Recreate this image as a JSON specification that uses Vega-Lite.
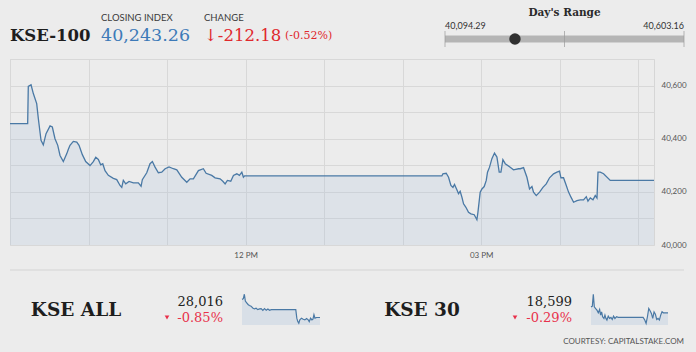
{
  "$schema": "https://vega.github.io/schema/vega-lite/v6.json",
  "background": "#ececec",
  "padding": {"left": 6, "top": 0, "right": 0, "bottom": 11},
  "config": {
    "view": {"stroke": null},
    "axis": {"labelFont": "Lato", "labelColor": "#555555", "labelFontSize": 8},
    "text": {"font": "DejaVu Serif"}
  },
  "datasets": {
    "kse100": [
      {"h":9,"v":40457},{"h":9.225,"v":40457},{"h":9.233,"v":40597},{"h":9.268,"v":40603},{"h":9.297,"v":40570},{"h":9.34,"v":40532},{"h":9.361,"v":40475},{"h":9.395,"v":40394},{"h":9.424,"v":40377},{"h":9.459,"v":40419},{"h":9.51,"v":40448},{"h":9.539,"v":40444},{"h":9.573,"v":40400},{"h":9.608,"v":40375},{"h":9.637,"v":40337},{"h":9.679,"v":40314},{"h":9.722,"v":40343},{"h":9.743,"v":40360},{"h":9.764,"v":40375},{"h":9.806,"v":40390},{"h":9.85,"v":40387},{"h":9.879,"v":40375},{"h":9.921,"v":40340},{"h":9.964,"v":40314},{"h":10.019,"v":40299},{"h":10.061,"v":40314},{"h":10.092,"v":40330},{"h":10.125,"v":40322},{"h":10.155,"v":40302},{"h":10.181,"v":40306},{"h":10.21,"v":40280},{"h":10.252,"v":40262},{"h":10.316,"v":40251},{"h":10.359,"v":40246},{"h":10.401,"v":40224},{"h":10.423,"v":40217},{"h":10.443,"v":40243},{"h":10.474,"v":40230},{"h":10.516,"v":40239},{"h":10.571,"v":40234},{"h":10.634,"v":40234},{"h":10.669,"v":40221},{"h":10.685,"v":40246},{"h":10.741,"v":40272},{"h":10.783,"v":40306},{"h":10.813,"v":40314},{"h":10.847,"v":40293},{"h":10.889,"v":40272},{"h":10.932,"v":40274},{"h":10.975,"v":40287},{"h":11.025,"v":40294},{"h":11.08,"v":40287},{"h":11.124,"v":40283},{"h":11.187,"v":40255},{"h":11.251,"v":40236},{"h":11.293,"v":40249},{"h":11.335,"v":40249},{"h":11.399,"v":40280},{"h":11.462,"v":40287},{"h":11.497,"v":40270},{"h":11.569,"v":40262},{"h":11.611,"v":40253},{"h":11.675,"v":40249},{"h":11.71,"v":40240},{"h":11.739,"v":40230},{"h":11.768,"v":40243},{"h":11.811,"v":40240},{"h":11.845,"v":40262},{"h":11.888,"v":40268},{"h":11.921,"v":40262},{"h":11.952,"v":40274},{"h":11.972,"v":40255},{"h":11.987,"v":40260},{"h":14.499,"v":40260},{"h":14.512,"v":40268},{"h":14.554,"v":40270},{"h":14.584,"v":40255},{"h":14.614,"v":40224},{"h":14.64,"v":40217},{"h":14.66,"v":40228},{"h":14.69,"v":40208},{"h":14.711,"v":40193},{"h":14.732,"v":40202},{"h":14.754,"v":40180},{"h":14.775,"v":40155},{"h":14.805,"v":40142},{"h":14.838,"v":40123},{"h":14.869,"v":40117},{"h":14.911,"v":40114},{"h":14.945,"v":40095},{"h":14.958,"v":40123},{"h":14.987,"v":40199},{"h":15.009,"v":40211},{"h":15.038,"v":40220},{"h":15.064,"v":40243},{"h":15.08,"v":40274},{"h":15.106,"v":40293},{"h":15.136,"v":40325},{"h":15.169,"v":40346},{"h":15.2,"v":40331},{"h":15.229,"v":40274},{"h":15.251,"v":40274},{"h":15.276,"v":40321},{"h":15.306,"v":40306},{"h":15.369,"v":40293},{"h":15.411,"v":40283},{"h":15.475,"v":40287},{"h":15.497,"v":40287},{"h":15.539,"v":40291},{"h":15.582,"v":40255},{"h":15.615,"v":40211},{"h":15.646,"v":40220},{"h":15.666,"v":40199},{"h":15.701,"v":40186},{"h":15.743,"v":40199},{"h":15.786,"v":40217},{"h":15.828,"v":40230},{"h":15.87,"v":40253},{"h":15.921,"v":40268},{"h":15.964,"v":40274},{"h":15.997,"v":40278},{"h":16.015,"v":40253},{"h":16.048,"v":40253},{"h":16.083,"v":40224},{"h":16.112,"v":40199},{"h":16.143,"v":40180},{"h":16.176,"v":40161},{"h":16.219,"v":40167},{"h":16.261,"v":40170},{"h":16.303,"v":40170},{"h":16.338,"v":40182},{"h":16.359,"v":40165},{"h":16.389,"v":40177},{"h":16.423,"v":40170},{"h":16.452,"v":40186},{"h":16.474,"v":40177},{"h":16.487,"v":40274},{"h":16.516,"v":40274},{"h":16.558,"v":40268},{"h":16.643,"v":40243},{"h":17.2,"v":40243}
    ],
    "kseall": [
      {"h":9,"v":28175},{"h":9.141,"v":28181},{"h":9.247,"v":28220},{"h":9.353,"v":28160},{"h":9.495,"v":28145},{"h":9.636,"v":28130},{"h":9.778,"v":28121},{"h":9.954,"v":28115},{"h":10.131,"v":28100},{"h":10.308,"v":28091},{"h":10.484,"v":28097},{"h":10.661,"v":28085},{"h":10.838,"v":28091},{"h":11.015,"v":28094},{"h":11.191,"v":28079},{"h":11.368,"v":28094},{"h":11.545,"v":28079},{"h":11.722,"v":28091},{"h":11.898,"v":28079},{"h":12.075,"v":28085},{"h":14.655,"v":28085},{"h":14.761,"v":28010},{"h":14.867,"v":27980},{"h":14.973,"v":27965},{"h":15.079,"v":27995},{"h":15.256,"v":28010},{"h":15.433,"v":28001},{"h":15.61,"v":27995},{"h":15.786,"v":28007},{"h":15.963,"v":27995},{"h":16.069,"v":27980},{"h":16.21,"v":28010},{"h":16.352,"v":27995},{"h":16.458,"v":28001},{"h":16.564,"v":28040},{"h":16.67,"v":28010},{"h":16.847,"v":28016},{"h":17.2,"v":28016}
    ],
    "kse30": [
      {"h":9,"v":18617},{"h":9.141,"v":18619},{"h":9.247,"v":18655},{"h":9.353,"v":18617},{"h":9.495,"v":18612},{"h":9.636,"v":18607},{"h":9.778,"v":18599},{"h":9.919,"v":18609},{"h":10.025,"v":18592},{"h":10.131,"v":18602},{"h":10.237,"v":18587},{"h":10.378,"v":18582},{"h":10.484,"v":18592},{"h":10.59,"v":18582},{"h":10.697,"v":18577},{"h":10.838,"v":18589},{"h":10.979,"v":18582},{"h":11.121,"v":18585},{"h":11.262,"v":18579},{"h":11.403,"v":18589},{"h":11.545,"v":18582},{"h":11.722,"v":18587},{"h":11.898,"v":18585},{"h":12.04,"v":18585},{"h":14.549,"v":18585},{"h":14.726,"v":18577},{"h":14.867,"v":18567},{"h":15.009,"v":18587},{"h":15.15,"v":18612},{"h":15.291,"v":18605},{"h":15.433,"v":18597},{"h":15.574,"v":18582},{"h":15.716,"v":18602},{"h":15.857,"v":18595},{"h":15.998,"v":18579},{"h":16.14,"v":18582},{"h":16.281,"v":18577},{"h":16.422,"v":18592},{"h":16.564,"v":18602},{"h":16.705,"v":18599},{"h":17.2,"v":18599}
    ]
  },
  "spacing": 9,
  "vconcat": [
    {
      "spacing": 4,
      "vconcat": [
        {
          "bounds": "flush",
          "spacing": 0,
          "hconcat": [
            {
              "width": 91, "height": 54,
              "data": {"values": [{"cell": "kse100", "level": "value", "text": "KSE-100"}]},
              "mark": {"type": "text", "align": "left", "baseline": "middle", "font": "DejaVu Serif", "fontSize": 16.5, "fontWeight": "bold", "color": "#1e1e1e"},
              "encoding": {
                "x": {"field": "cell", "type": "nominal", "axis": null, "scale": {"type": "point", "align": 0}},
                "y": {"field": "level", "type": "nominal", "axis": null, "scale": {"type": "point", "domain": ["label", "value"], "padding": 1.1875}},
                "text": {"field": "text"}
              }
            },
            {
              "width": 103, "height": 54,
              "data": {"values": [{"cell": "close", "level": "label", "text": "CLOSING INDEX"}, {"cell": "close", "level": "value", "text": "40,243.26"}]},
              "encoding": {
                "x": {"field": "cell", "type": "nominal", "axis": null, "scale": {"type": "point", "align": 0}},
                "y": {"field": "level", "type": "nominal", "axis": null, "scale": {"type": "point", "domain": ["label", "value"], "padding": 1.1875}},
                "text": {"field": "text"}
              },
              "layer": [
                {"transform": [{"filter": "datum.level == 'label'"}], "mark": {"type": "text", "align": "left", "baseline": "middle", "font": "Lato", "fontSize": 9.5, "color": "#3a3a3a"}},
                {"transform": [{"filter": "datum.level == 'value'"}], "mark": {"type": "text", "align": "left", "baseline": "middle", "font": "DejaVu Serif", "fontSize": 17.5, "color": "#3d7ab8"}}
              ]
            },
            {
              "width": 81, "height": 54,
              "data": {"values": [{"cell": "change", "level": "label", "text": "CHANGE"}, {"cell": "change", "level": "value", "text": "↓-212.18"}]},
              "encoding": {
                "x": {"field": "cell", "type": "nominal", "axis": null, "scale": {"type": "point", "align": 0}},
                "y": {"field": "level", "type": "nominal", "axis": null, "scale": {"type": "point", "domain": ["label", "value"], "padding": 1.1875}},
                "text": {"field": "text"}
              },
              "layer": [
                {"transform": [{"filter": "datum.level == 'label'"}], "mark": {"type": "text", "align": "left", "baseline": "middle", "font": "Lato", "fontSize": 9.5, "color": "#3a3a3a"}},
                {"transform": [{"filter": "datum.level == 'value'"}], "mark": {"type": "text", "align": "left", "baseline": "middle", "font": "DejaVu Serif", "fontSize": 16.5, "color": "#e0282d"}}
              ]
            },
            {
              "width": 160, "height": 54,
              "data": {"values": [{"cell": "pct", "level": "value", "text": "(-0.52%)"}]},
              "mark": {"type": "text", "align": "left", "baseline": "middle", "font": "DejaVu Serif", "fontSize": 11, "color": "#e0282d"},
              "encoding": {
                "x": {"field": "cell", "type": "nominal", "axis": null, "scale": {"type": "point", "align": 0}},
                "y": {"field": "level", "type": "nominal", "axis": null, "scale": {"type": "point", "domain": ["label", "value"], "padding": 1.1875}},
                "text": {"field": "text"}
              }
            },
            {
              "width": 239, "height": 52,
              "layer": [
                {
                  "data": {"values": [{"level": "title", "text": "Day's Range"}]},
                  "mark": {"type": "text", "baseline": "middle", "font": "DejaVu Serif", "fontSize": 10.5, "fontWeight": "bold", "color": "#2a2a2a"},
                  "encoding": {
                    "y": {"field": "level", "type": "nominal", "axis": null, "scale": {"type": "point", "domain": ["title", "label", "bar"], "padding": 1.25}},
                    "text": {"field": "text"}
                  }
                },
                {
                  "data": {"values": [{"level": "bar", "low": 40094.29, "high": 40603.16}]},
                  "mark": {"type": "rule", "color": "#b5b5b5", "strokeWidth": 7},
                  "encoding": {
                    "x": {"field": "low", "type": "quantitative", "axis": null, "scale": {"domain": [40094.29, 40603.16], "nice": false, "zero": false}},
                    "x2": {"field": "high"},
                    "y": {"field": "level", "type": "nominal", "axis": null, "scale": {"type": "point", "domain": ["title", "label", "bar"], "padding": 1.25}}
                  }
                },
                {
                  "data": {"values": [{"level": "bar", "v": 40094.29}, {"level": "bar", "v": 40348.725}, {"level": "bar", "v": 40603.16}]},
                  "mark": {"type": "tick", "color": "#9a9a9a", "size": 16, "thickness": 1, "orient": "vertical"},
                  "encoding": {
                    "x": {"field": "v", "type": "quantitative", "axis": null, "scale": {"domain": [40094.29, 40603.16], "nice": false, "zero": false}},
                    "y": {"field": "level", "type": "nominal", "axis": null, "scale": {"type": "point", "domain": ["title", "label", "bar"], "padding": 1.25}}
                  }
                },
                {
                  "data": {"values": [{"level": "bar", "v": 40243.26}]},
                  "mark": {"type": "point", "shape": "circle", "filled": true, "size": 130, "opacity": 1, "color": "#303030"},
                  "encoding": {
                    "x": {"field": "v", "type": "quantitative", "axis": null, "scale": {"domain": [40094.29, 40603.16], "nice": false, "zero": false}},
                    "y": {"field": "level", "type": "nominal", "axis": null, "scale": {"type": "point", "domain": ["title", "label", "bar"], "padding": 1.25}}
                  }
                },
                {
                  "data": {"values": [{"level": "label", "v": 40094.29, "text": "40,094.29"}]},
                  "mark": {"type": "text", "align": "left", "baseline": "middle", "font": "Lato", "fontSize": 9, "color": "#333333"},
                  "encoding": {
                    "x": {"field": "v", "type": "quantitative", "axis": null, "scale": {"domain": [40094.29, 40603.16], "nice": false, "zero": false}},
                    "y": {"field": "level", "type": "nominal", "axis": null, "scale": {"type": "point", "domain": ["title", "label", "bar"], "padding": 1.25}},
                    "text": {"field": "text"}
                  }
                },
                {
                  "data": {"values": [{"level": "label", "v": 40603.16, "text": "40,603.16"}]},
                  "mark": {"type": "text", "align": "right", "baseline": "middle", "font": "Lato", "fontSize": 9, "color": "#333333"},
                  "encoding": {
                    "x": {"field": "v", "type": "quantitative", "axis": null, "scale": {"domain": [40094.29, 40603.16], "nice": false, "zero": false}},
                    "y": {"field": "level", "type": "nominal", "axis": null, "scale": {"type": "point", "domain": ["title", "label", "bar"], "padding": 1.25}},
                    "text": {"field": "text"}
                  }
                }
              ]
            },
            {
              "width": 12, "height": 1,
              "data": {"values": []},
              "mark": {"type": "text"},
              "encoding": {"text": {"field": "text"}}
            }
          ]
        },
        {
          "width": 644, "height": 186,
          "data": {"name": "kse100"},
          "view": {"stroke": "#d6d6d6"},
          "encoding": {
            "x": {
              "field": "h", "type": "quantitative",
              "scale": {"domain": [9, 17.2], "nice": false, "zero": false},
              "axis": {"values": [9, 10, 11, 12, 13, 14, 15, 16, 17], "labelExpr": "datum.value == 12 ? '12 PM' : datum.value == 15 ? '03 PM' : ''", "grid": true, "gridColor": "#d8d8d8", "domain": false, "ticks": false, "labelPadding": 6, "title": null}
            },
            "y": {
              "field": "v", "type": "quantitative",
              "scale": {"domain": [40000, 40700], "nice": false, "zero": false},
              "axis": {"orient": "right", "values": [40000, 40100, 40200, 40300, 40400, 40500, 40600, 40700], "labelExpr": "datum.value % 200 == 0 ? format(datum.value, ',') : ''", "grid": true, "gridColor": "#d8d8d8", "domain": false, "ticks": false, "labelPadding": 7, "title": null}
            }
          },
          "layer": [
            {"mark": {"type": "area", "color": "#a9c1d9", "opacity": 0.22}, "encoding": {"y2": {"datum": 40000}}},
            {"mark": {"type": "line", "color": "#4a79a5", "strokeWidth": 1.3}}
          ]
        }
      ]
    },
    {
      "spacing": 10,
      "vconcat": [
        {
          "width": 674, "height": 11,
          "data": {"values": [{}]},
          "mark": {"type": "rule", "color": "#d4d4d4", "strokeWidth": 1},
          "encoding": {"y": {"datum": 1, "type": "quantitative", "axis": null, "scale": {"domain": [0, 1]}}}
        },
        {
          "bounds": "flush",
          "spacing": 0,
          "hconcat": [
            {
              "width": 132, "height": 31,
              "data": {"values": [{"text": "KSE ALL"}]},
              "mark": {"type": "text", "baseline": "middle", "font": "DejaVu Serif", "fontSize": 18.5, "fontWeight": "bold", "color": "#1e1e1e"},
              "encoding": {"text": {"field": "text"}}
            },
            {
              "width": 50, "height": 31,
              "data": {"values": [{"level": "change"}]},
              "mark": {"type": "point", "shape": "triangle-down", "filled": true, "size": 22, "opacity": 1, "color": "#e8314b"},
              "encoding": {
                "y": {"field": "level", "type": "nominal", "axis": null, "scale": {"type": "point", "domain": ["value", "change"], "padding": 0.46875}}
              }
            },
            {
              "width": 31, "height": 31,
              "data": {"values": [{"cell": "kseall", "level": "value", "text": "28,016"}, {"cell": "kseall", "level": "change", "text": "-0.85%"}]},
              "encoding": {
                "x": {"field": "cell", "type": "nominal", "axis": null, "scale": {"type": "point", "align": 1}},
                "y": {"field": "level", "type": "nominal", "axis": null, "scale": {"type": "point", "domain": ["value", "change"], "padding": 0.46875}},
                "text": {"field": "text"}
              },
              "layer": [
                {"transform": [{"filter": "datum.level == 'value'"}], "mark": {"type": "text", "align": "right", "baseline": "middle", "font": "DejaVu Serif", "fontSize": 13, "color": "#222222"}},
                {"transform": [{"filter": "datum.level == 'change'"}], "mark": {"type": "text", "align": "right", "baseline": "middle", "font": "DejaVu Serif", "fontSize": 13, "color": "#e8314b"}}
              ]
            },
            {
              "width": 19, "height": 31,
              "data": {"values": []},
              "mark": {"type": "text"},
              "encoding": {"text": {"field": "text"}}
            },
            {
              "width": 78, "height": 31,
              "data": {"name": "kseall"},
              "encoding": {
                "x": {"field": "h", "type": "quantitative", "axis": null, "scale": {"domain": [9, 17.2], "nice": false, "zero": false}},
                "y": {"field": "v", "type": "quantitative", "axis": null, "scale": {"domain": [27950, 28222], "nice": false, "zero": false}}
              },
              "layer": [
                {"mark": {"type": "area", "color": "#a9c1d9", "opacity": 0.3}, "encoding": {"y2": {"datum": 27950}}},
                {"mark": {"type": "line", "color": "#4a79a5", "strokeWidth": 1.2}}
              ]
            },
            {
              "width": 35, "height": 31,
              "data": {"values": []},
              "mark": {"type": "text"},
              "encoding": {"text": {"field": "text"}}
            },
            {
              "width": 134, "height": 31,
              "data": {"values": [{"text": "KSE 30"}]},
              "mark": {"type": "text", "baseline": "middle", "font": "DejaVu Serif", "fontSize": 18.5, "fontWeight": "bold", "color": "#1e1e1e"},
              "encoding": {"text": {"field": "text"}}
            },
            {
              "width": 52, "height": 31,
              "data": {"values": [{"level": "change"}]},
              "mark": {"type": "point", "shape": "triangle-down", "filled": true, "size": 22, "opacity": 1, "color": "#e8314b"},
              "encoding": {
                "y": {"field": "level", "type": "nominal", "axis": null, "scale": {"type": "point", "domain": ["value", "change"], "padding": 0.46875}}
              }
            },
            {
              "width": 31, "height": 31,
              "data": {"values": [{"cell": "kse30", "level": "value", "text": "18,599"}, {"cell": "kse30", "level": "change", "text": "-0.29%"}]},
              "encoding": {
                "x": {"field": "cell", "type": "nominal", "axis": null, "scale": {"type": "point", "align": 1}},
                "y": {"field": "level", "type": "nominal", "axis": null, "scale": {"type": "point", "domain": ["value", "change"], "padding": 0.46875}},
                "text": {"field": "text"}
              },
              "layer": [
                {"transform": [{"filter": "datum.level == 'value'"}], "mark": {"type": "text", "align": "right", "baseline": "middle", "font": "DejaVu Serif", "fontSize": 13, "color": "#222222"}},
                {"transform": [{"filter": "datum.level == 'change'"}], "mark": {"type": "text", "align": "right", "baseline": "middle", "font": "DejaVu Serif", "fontSize": 13, "color": "#e8314b"}}
              ]
            },
            {
              "width": 19, "height": 31,
              "data": {"values": []},
              "mark": {"type": "text"},
              "encoding": {"text": {"field": "text"}}
            },
            {
              "width": 77, "height": 31,
              "data": {"name": "kse30"},
              "encoding": {
                "x": {"field": "h", "type": "quantitative", "axis": null, "scale": {"domain": [9, 17.2], "nice": false, "zero": false}},
                "y": {"field": "v", "type": "quantitative", "axis": null, "scale": {"domain": [18562, 18656], "nice": false, "zero": false}}
              },
              "layer": [
                {"mark": {"type": "area", "color": "#a9c1d9", "opacity": 0.3}, "encoding": {"y2": {"datum": 18562}}},
                {"mark": {"type": "line", "color": "#4a79a5", "strokeWidth": 1.2}}
              ]
            }
          ]
        },
        {
          "width": 674, "height": 12,
          "data": {"values": [{"cell": "credit", "text": "COURTESY: CAPITALSTAKE.COM"}]},
          "mark": {"type": "text", "align": "right", "baseline": "middle", "font": "Lato", "fontSize": 8, "color": "#555555"},
          "encoding": {
            "x": {"field": "cell", "type": "nominal", "axis": null, "scale": {"type": "point", "align": 1}},
            "text": {"field": "text"}
          }
        }
      ]
    }
  ]
}
